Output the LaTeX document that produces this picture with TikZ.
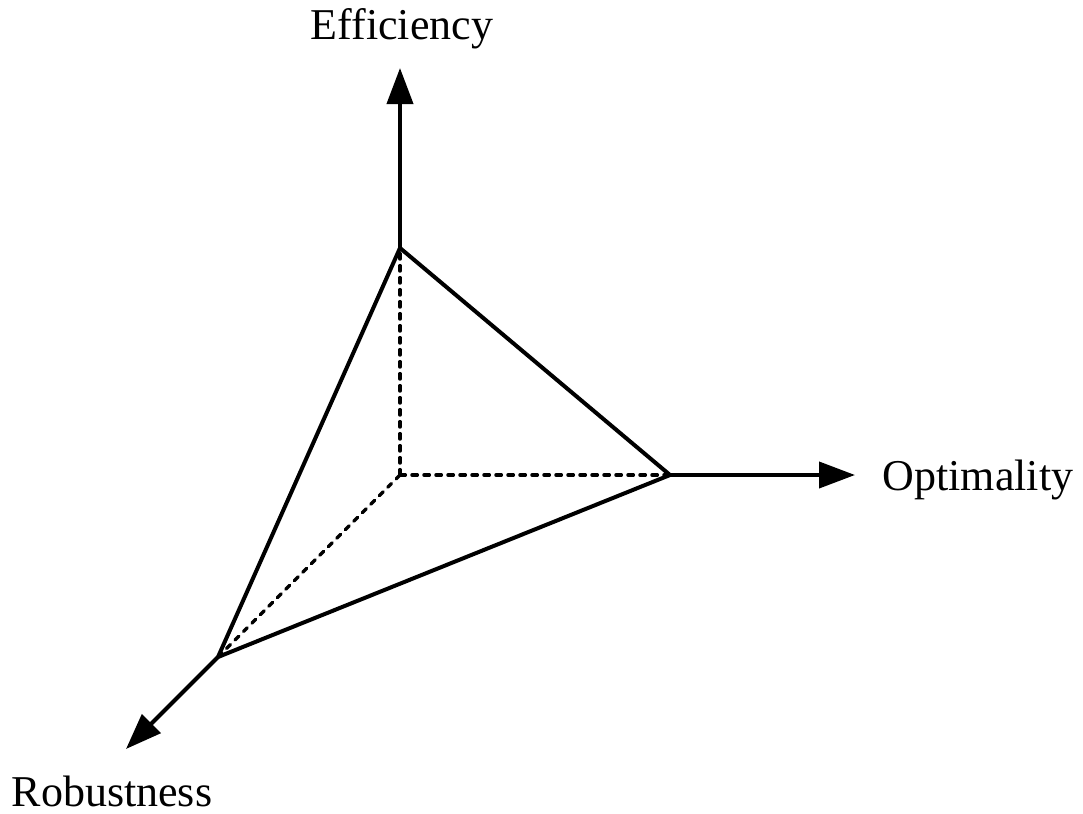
\documentclass[tikz,border=0pt]{standalone}
\usepackage{fontspec}
\setmainfont{Liberation Serif}
\usetikzlibrary{arrows.meta}
\begin{document}
\begin{tikzpicture}[x=0.75pt,y=-0.75pt,
  edge/.style={line width=3pt},
  hidden/.style={line width=2.6pt,dash pattern=on 4pt off 5pt,line cap=round},
  axis/.style={line width=3pt,-{Triangle[length=27pt,width=19.5pt]}},
  axislabel/.style={font=\fontsize{33pt}{38pt}\selectfont,inner sep=0pt,anchor=base}]
\useasboundingbox (0,0) rectangle (1083,814);
% origin and the three corner points of the simplex
\coordinate (O) at (400,475);
\coordinate (E) at (400,248);
\coordinate (R) at (670,475);
\coordinate (B) at (218,657);
% axis tips
\coordinate (Etip) at (400,68);
\coordinate (Rtip) at (855,475);
\coordinate (Btip) at (126,749);
% hidden edges from the origin
\draw[hidden] (O) -- (E);
\draw[hidden] (O) -- (R);
\draw[hidden] (O) -- (B);
% visible faces
\draw[edge,line join=miter] (E) -- (R) -- (B) -- cycle;
% axes
\draw[axis] (E) -- (Etip);
\draw[axis] (R) -- (Rtip);
\draw[axis] (B) -- (Btip);
% labels
\node[axislabel] (lE) at (402,39) {Efficiency};
\node[axislabel] (lR) at (978,490) {Optimality};
\node[axislabel] (lB) at (112,806) {Robustness};
\end{tikzpicture}
\end{document}
